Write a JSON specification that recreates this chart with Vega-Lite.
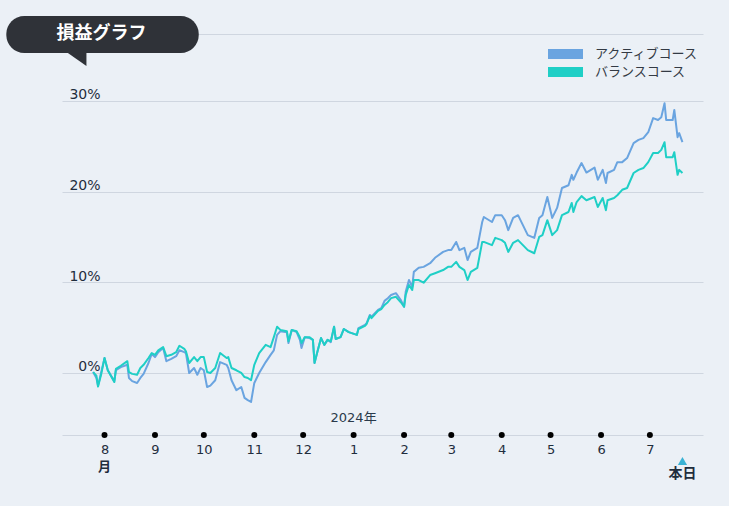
{
  "$schema": "https://vega.github.io/schema/vega-lite/v6.json",
  "width": 641,
  "height": 401,
  "autosize": {"type": "none"},
  "padding": {"left": 62, "top": 34, "right": 26, "bottom": 71},
  "background": "#ebf0f6",
  "config": {"view": {"stroke": null}},
  "datasets": {
    "pnl": [
      {"date": "2023-07-25", "active": 0.1, "balance": 0.1},
      {"date": "2023-07-27", "active": -0.55, "balance": -0.3},
      {"date": "2023-07-28", "active": -1.4, "balance": -1.5},
      {"date": "2023-07-30", "active": 0.1, "balance": -0.1},
      {"date": "2023-08-01", "active": 1.65, "balance": 1.65},
      {"date": "2023-08-03", "active": 0.3, "balance": 0.3},
      {"date": "2023-08-07", "active": -0.9, "balance": -1.0},
      {"date": "2023-08-08", "active": 0.3, "balance": 0.45},
      {"date": "2023-08-11", "active": 0.65, "balance": 0.8},
      {"date": "2023-08-15", "active": 0.9, "balance": 1.3},
      {"date": "2023-08-16", "active": -0.55, "balance": 0.1},
      {"date": "2023-08-18", "active": -0.9, "balance": -0.1},
      {"date": "2023-08-21", "active": -1.1, "balance": -0.2},
      {"date": "2023-08-23", "active": -0.55, "balance": 0.55},
      {"date": "2023-08-25", "active": -0.1, "balance": 0.9},
      {"date": "2023-08-28", "active": 1.1, "balance": 1.65},
      {"date": "2023-08-30", "active": 2.1, "balance": 2.2},
      {"date": "2023-09-01", "active": 1.75, "balance": 2.0},
      {"date": "2023-09-03", "active": 2.3, "balance": 2.5},
      {"date": "2023-09-06", "active": 2.75, "balance": 2.85},
      {"date": "2023-09-08", "active": 1.3, "balance": 1.85},
      {"date": "2023-09-11", "active": 1.55, "balance": 2.0},
      {"date": "2023-09-14", "active": 1.85, "balance": 2.3},
      {"date": "2023-09-16", "active": 2.5, "balance": 3.0},
      {"date": "2023-09-19", "active": 2.3, "balance": 2.65},
      {"date": "2023-09-20", "active": 2.2, "balance": 2.4},
      {"date": "2023-09-22", "active": 0.0, "balance": 1.1},
      {"date": "2023-09-25", "active": 0.55, "balance": 1.75},
      {"date": "2023-09-27", "active": -0.2, "balance": 1.3},
      {"date": "2023-09-29", "active": 0.55, "balance": 1.75},
      {"date": "2023-10-01", "active": 0.3, "balance": 1.75},
      {"date": "2023-10-03", "active": -1.55, "balance": 0.1},
      {"date": "2023-10-05", "active": -1.4, "balance": 0.0},
      {"date": "2023-10-08", "active": -0.8, "balance": 0.55},
      {"date": "2023-10-11", "active": 1.2, "balance": 2.2},
      {"date": "2023-10-15", "active": 0.9, "balance": 1.65},
      {"date": "2023-10-16", "active": 0.55, "balance": 1.75},
      {"date": "2023-10-18", "active": -0.8, "balance": 0.55},
      {"date": "2023-10-21", "active": -1.9, "balance": 0.3},
      {"date": "2023-10-24", "active": -1.55, "balance": 0.0},
      {"date": "2023-10-26", "active": -2.75, "balance": -0.45},
      {"date": "2023-10-28", "active": -3.0, "balance": -0.55},
      {"date": "2023-10-30", "active": -3.2, "balance": -0.8},
      {"date": "2023-11-01", "active": -1.1, "balance": 0.9},
      {"date": "2023-11-04", "active": 0.0, "balance": 2.2},
      {"date": "2023-11-08", "active": 1.2, "balance": 3.1},
      {"date": "2023-11-11", "active": 2.0, "balance": 2.85},
      {"date": "2023-11-13", "active": 2.5, "balance": 3.95},
      {"date": "2023-11-15", "active": 4.2, "balance": 5.1},
      {"date": "2023-11-17", "active": 4.6, "balance": 4.75},
      {"date": "2023-11-21", "active": 4.5, "balance": 4.6},
      {"date": "2023-11-22", "active": 3.3, "balance": 3.5},
      {"date": "2023-11-24", "active": 4.75, "balance": 4.75},
      {"date": "2023-11-27", "active": 4.5, "balance": 4.6},
      {"date": "2023-11-29", "active": 3.65, "balance": 3.95},
      {"date": "2023-11-30", "active": 2.75, "balance": 3.3},
      {"date": "2023-12-02", "active": 3.95, "balance": 3.95},
      {"date": "2023-12-05", "active": 3.85, "balance": 3.95},
      {"date": "2023-12-07", "active": 3.65, "balance": 3.65},
      {"date": "2023-12-08", "active": 1.1, "balance": 1.1},
      {"date": "2023-12-10", "active": 2.5, "balance": 2.5},
      {"date": "2023-12-12", "active": 3.85, "balance": 3.85},
      {"date": "2023-12-14", "active": 3.1, "balance": 3.1},
      {"date": "2023-12-16", "active": 3.65, "balance": 3.65},
      {"date": "2023-12-18", "active": 3.4, "balance": 3.5},
      {"date": "2023-12-20", "active": 5.1, "balance": 5.1},
      {"date": "2023-12-21", "active": 3.75, "balance": 3.75},
      {"date": "2023-12-24", "active": 3.95, "balance": 3.95},
      {"date": "2023-12-26", "active": 4.85, "balance": 4.85},
      {"date": "2023-12-29", "active": 4.5, "balance": 4.5},
      {"date": "2024-01-03", "active": 4.2, "balance": 4.2},
      {"date": "2024-01-04", "active": 4.95, "balance": 4.85},
      {"date": "2024-01-08", "active": 5.3, "balance": 5.2},
      {"date": "2024-01-09", "active": 5.5, "balance": 5.4},
      {"date": "2024-01-11", "active": 6.4, "balance": 6.3},
      {"date": "2024-01-12", "active": 6.2, "balance": 6.05},
      {"date": "2024-01-16", "active": 6.95, "balance": 6.85},
      {"date": "2024-01-18", "active": 7.15, "balance": 7.05},
      {"date": "2024-01-20", "active": 7.95, "balance": 7.5},
      {"date": "2024-01-22", "active": 8.25, "balance": 7.8},
      {"date": "2024-01-24", "active": 8.6, "balance": 8.25},
      {"date": "2024-01-27", "active": 8.8, "balance": 8.4},
      {"date": "2024-01-30", "active": 8.05, "balance": 7.8},
      {"date": "2024-02-01", "active": 7.3, "balance": 7.3},
      {"date": "2024-02-02", "active": 8.95, "balance": 8.6},
      {"date": "2024-02-04", "active": 10.25, "balance": 9.7},
      {"date": "2024-02-06", "active": 9.5, "balance": 9.15},
      {"date": "2024-02-07", "active": 11.15, "balance": 10.25},
      {"date": "2024-02-10", "active": 11.6, "balance": 10.25},
      {"date": "2024-02-13", "active": 11.7, "balance": 9.95},
      {"date": "2024-02-17", "active": 12.1, "balance": 10.8},
      {"date": "2024-02-20", "active": 12.7, "balance": 11.0},
      {"date": "2024-02-25", "active": 13.35, "balance": 11.35},
      {"date": "2024-02-28", "active": 13.55, "balance": 11.7},
      {"date": "2024-03-01", "active": 13.55, "balance": 11.7},
      {"date": "2024-03-04", "active": 14.45, "balance": 12.25},
      {"date": "2024-03-06", "active": 13.55, "balance": 11.7},
      {"date": "2024-03-09", "active": 13.8, "balance": 11.35},
      {"date": "2024-03-11", "active": 12.45, "balance": 10.25},
      {"date": "2024-03-13", "active": 13.35, "balance": 11.15},
      {"date": "2024-03-17", "active": 13.8, "balance": 11.6},
      {"date": "2024-03-20", "active": 16.65, "balance": 14.45},
      {"date": "2024-03-21", "active": 17.2, "balance": 14.45},
      {"date": "2024-03-26", "active": 16.65, "balance": 14.1},
      {"date": "2024-03-28", "active": 17.4, "balance": 14.9},
      {"date": "2024-04-01", "active": 17.4, "balance": 14.65},
      {"date": "2024-04-03", "active": 16.85, "balance": 14.35},
      {"date": "2024-04-05", "active": 15.75, "balance": 13.35},
      {"date": "2024-04-08", "active": 17.1, "balance": 14.35},
      {"date": "2024-04-11", "active": 17.4, "balance": 14.65},
      {"date": "2024-04-17", "active": 15.2, "balance": 13.55},
      {"date": "2024-04-21", "active": 14.9, "balance": 13.2},
      {"date": "2024-04-24", "active": 17.1, "balance": 15.0},
      {"date": "2024-04-26", "active": 17.4, "balance": 15.2},
      {"date": "2024-04-29", "active": 19.4, "balance": 16.85},
      {"date": "2024-05-02", "active": 17.1, "balance": 15.2},
      {"date": "2024-05-05", "active": 18.2, "balance": 15.75},
      {"date": "2024-05-08", "active": 20.4, "balance": 17.4},
      {"date": "2024-05-12", "active": 20.7, "balance": 17.75},
      {"date": "2024-05-14", "active": 21.85, "balance": 18.75},
      {"date": "2024-05-15", "active": 21.3, "balance": 17.75},
      {"date": "2024-05-17", "active": 22.1, "balance": 18.85},
      {"date": "2024-05-20", "active": 23.15, "balance": 19.5},
      {"date": "2024-05-23", "active": 22.1, "balance": 19.05},
      {"date": "2024-05-28", "active": 22.65, "balance": 19.4},
      {"date": "2024-05-30", "active": 21.3, "balance": 18.3},
      {"date": "2024-06-02", "active": 22.4, "balance": 19.3},
      {"date": "2024-06-04", "active": 20.95, "balance": 17.95},
      {"date": "2024-06-05", "active": 22.05, "balance": 19.05},
      {"date": "2024-06-09", "active": 22.4, "balance": 19.3},
      {"date": "2024-06-11", "active": 23.25, "balance": 19.6},
      {"date": "2024-06-14", "active": 23.25, "balance": 20.2},
      {"date": "2024-06-17", "active": 23.7, "balance": 20.4},
      {"date": "2024-06-21", "active": 25.35, "balance": 22.05},
      {"date": "2024-06-24", "active": 25.7, "balance": 22.4},
      {"date": "2024-06-27", "active": 25.9, "balance": 22.6},
      {"date": "2024-06-30", "active": 26.55, "balance": 23.25},
      {"date": "2024-07-03", "active": 28.1, "balance": 24.25},
      {"date": "2024-07-06", "active": 27.9, "balance": 24.25},
      {"date": "2024-07-08", "active": 28.2, "balance": 24.6},
      {"date": "2024-07-10", "active": 29.75, "balance": 25.45},
      {"date": "2024-07-11", "active": 27.9, "balance": 23.8},
      {"date": "2024-07-15", "active": 27.9, "balance": 23.8},
      {"date": "2024-07-16", "active": 29.0, "balance": 24.35},
      {"date": "2024-07-18", "active": 26.0, "balance": 21.85},
      {"date": "2024-07-19", "active": 26.45, "balance": 22.4},
      {"date": "2024-07-21", "active": 25.45, "balance": 22.05}
    ],
    "months": [
      {"date": "2023-08-01"}, {"date": "2023-09-01"}, {"date": "2023-10-01"},
      {"date": "2023-11-01"}, {"date": "2023-12-01"}, {"date": "2024-01-01"},
      {"date": "2024-02-01"}, {"date": "2024-03-01"}, {"date": "2024-04-01"},
      {"date": "2024-05-01"}, {"date": "2024-06-01"}, {"date": "2024-07-01"}
    ],
    "one": [{}]
  },
  "layer": [
    {
      "data": {"name": "pnl"},
      "transform": [{"fold": ["active", "balance"], "as": ["course", "value"]}],
      "mark": {"type": "line", "strokeWidth": 2, "strokeJoin": "round"},
      "encoding": {
        "x": {
          "field": "date",
          "type": "temporal",
          "scale": {
            "type": "utc",
            "domain": [
              {"year": 2023, "month": 7, "date": 5, "hours": 21, "utc": true},
              {"year": 2024, "month": 8, "date": 2, "hours": 15, "utc": true}
            ]
          },
          "axis": {
            "title": null,
            "values": [
              {"year": 2023, "month": 8, "date": 1, "utc": true},
              {"year": 2023, "month": 9, "date": 1, "utc": true},
              {"year": 2023, "month": 10, "date": 1, "utc": true},
              {"year": 2023, "month": 11, "date": 1, "utc": true},
              {"year": 2023, "month": 12, "date": 1, "utc": true},
              {"year": 2024, "month": 1, "date": 1, "utc": true},
              {"year": 2024, "month": 2, "date": 1, "utc": true},
              {"year": 2024, "month": 3, "date": 1, "utc": true},
              {"year": 2024, "month": 4, "date": 1, "utc": true},
              {"year": 2024, "month": 5, "date": 1, "utc": true},
              {"year": 2024, "month": 6, "date": 1, "utc": true},
              {"year": 2024, "month": 7, "date": 1, "utc": true}
            ],
            "labelExpr": "utcFormat(datum.value, '%-m')",
            "domainColor": "#cfd6e0",
            "ticks": false,
            "tickSize": 0,
            "grid": false,
            "labelPadding": 8,
            "labelFlush": false,
            "labelOverlap": false,
            "labelFont": "DejaVu Sans",
            "labelFontSize": 13,
            "labelColor": "#1f2d3d"
          }
        },
        "y": {
          "field": "value",
          "type": "quantitative",
          "scale": {"domain": [-6.84, 37.38], "nice": false, "zero": false},
          "axis": {
            "title": null,
            "values": [0, 10, 20, 30, 37.38],
            "labelExpr": "datum.value > 35 ? '' : datum.value + '%'",
            "domain": false,
            "ticks": false,
            "tickSize": 0,
            "grid": true,
            "gridColor": "#cfd6e0",
            "gridWidth": 1,
            "labelAlign": "right",
            "labelPadding": -38,
            "labelBaseline": "alphabetic",
            "labelOffset": -2,
            "labelFont": "DejaVu Sans",
            "labelFontSize": 14,
            "labelColor": "#1f2d3d"
          }
        },
        "color": {
          "field": "course",
          "type": "nominal",
          "scale": {"domain": ["active", "balance"], "range": ["#6aa4e0", "#1fcfc6"]},
          "legend": {
            "title": null,
            "orient": "none",
            "legendX": 481,
            "legendY": 14,
            "padding": 0,
            "symbolType": "stroke",
            "symbolStrokeWidth": 10,
            "symbolSize": 1225,
            "clipHeight": 12,
            "rowPadding": 5,
            "labelOffset": 7,
            "labelFont": "Noto Sans CJK JP",
            "labelFontSize": 13,
            "labelColor": "#333a44",
            "labelExpr": "datum.label == 'active' ? 'アクティブコース' : 'バランスコース'"
          }
        }
      }
    },
    {
      "data": {"name": "months"},
      "mark": {"type": "point", "filled": true, "color": "#000000", "size": 36, "opacity": 1},
      "encoding": {
        "x": {"field": "date", "type": "temporal"},
        "y": {"datum": -6.84}
      }
    },
    {
      "data": {"name": "one"},
      "mark": {"type": "text", "text": "2024年", "font": "DejaVu Sans, Noto Sans CJK JP", "fontSize": 13, "color": "#2a3a4a", "baseline": "middle"},
      "encoding": {
        "x": {"datum": {"year": 2024, "month": 1, "date": 1, "utc": true}, "type": "temporal"},
        "y": {"datum": -4.96}
      }
    },
    {
      "data": {"name": "one"},
      "mark": {"type": "text", "text": "月", "font": "Noto Sans CJK JP", "fontSize": 13, "fontWeight": "bold", "color": "#1f2d3d", "baseline": "middle"},
      "encoding": {
        "x": {"datum": {"year": 2023, "month": 8, "date": 1, "utc": true}, "type": "temporal"},
        "y": {"datum": -10.4}
      }
    },
    {
      "data": {"name": "one"},
      "mark": {"type": "point", "shape": "triangle-up", "filled": true, "color": "#3ab2d4", "size": 85, "opacity": 1},
      "encoding": {
        "x": {"datum": {"year": 2024, "month": 7, "date": 21, "utc": true}, "type": "temporal"},
        "y": {"datum": -9.7}
      }
    },
    {
      "data": {"name": "one"},
      "mark": {"type": "text", "text": "本日", "font": "Noto Sans CJK JP", "fontSize": 14, "fontWeight": "bold", "color": "#1f2d3d", "baseline": "middle"},
      "encoding": {
        "x": {"datum": {"year": 2024, "month": 7, "date": 21, "utc": true}, "type": "temporal"},
        "y": {"datum": -11.14}
      }
    },
    {
      "data": {"name": "one"},
      "mark": {"type": "rect", "color": "#2f3238", "cornerRadius": 18},
      "encoding": {
        "x": {"datum": {"year": 2023, "month": 6, "date": 1, "hours": 16, "utc": true}, "type": "temporal"},
        "x2": {"datum": {"year": 2023, "month": 9, "date": 27, "hours": 21, "utc": true}},
        "y": {"datum": 39.36},
        "y2": {"datum": 35.28}
      }
    },
    {
      "data": {"name": "one"},
      "mark": {"type": "point", "shape": "M -1 -0.7 L 1 -0.7 L 1 0.7 Z", "filled": true, "color": "#2f3238", "size": 400, "opacity": 1},
      "encoding": {
        "x": {"datum": {"year": 2023, "month": 7, "date": 14, "hours": 18, "utc": true}, "type": "temporal"},
        "y": {"datum": 34.62}
      }
    },
    {
      "data": {"name": "one"},
      "mark": {"type": "text", "text": "損益グラフ", "font": "Noto Sans CJK JP", "fontSize": 18, "fontWeight": "bold", "color": "#ffffff", "baseline": "middle"},
      "encoding": {
        "x": {"datum": {"year": 2023, "month": 7, "date": 30, "hours": 4, "utc": true}, "type": "temporal"},
        "y": {"datum": 37.43}
      }
    }
  ]
}
